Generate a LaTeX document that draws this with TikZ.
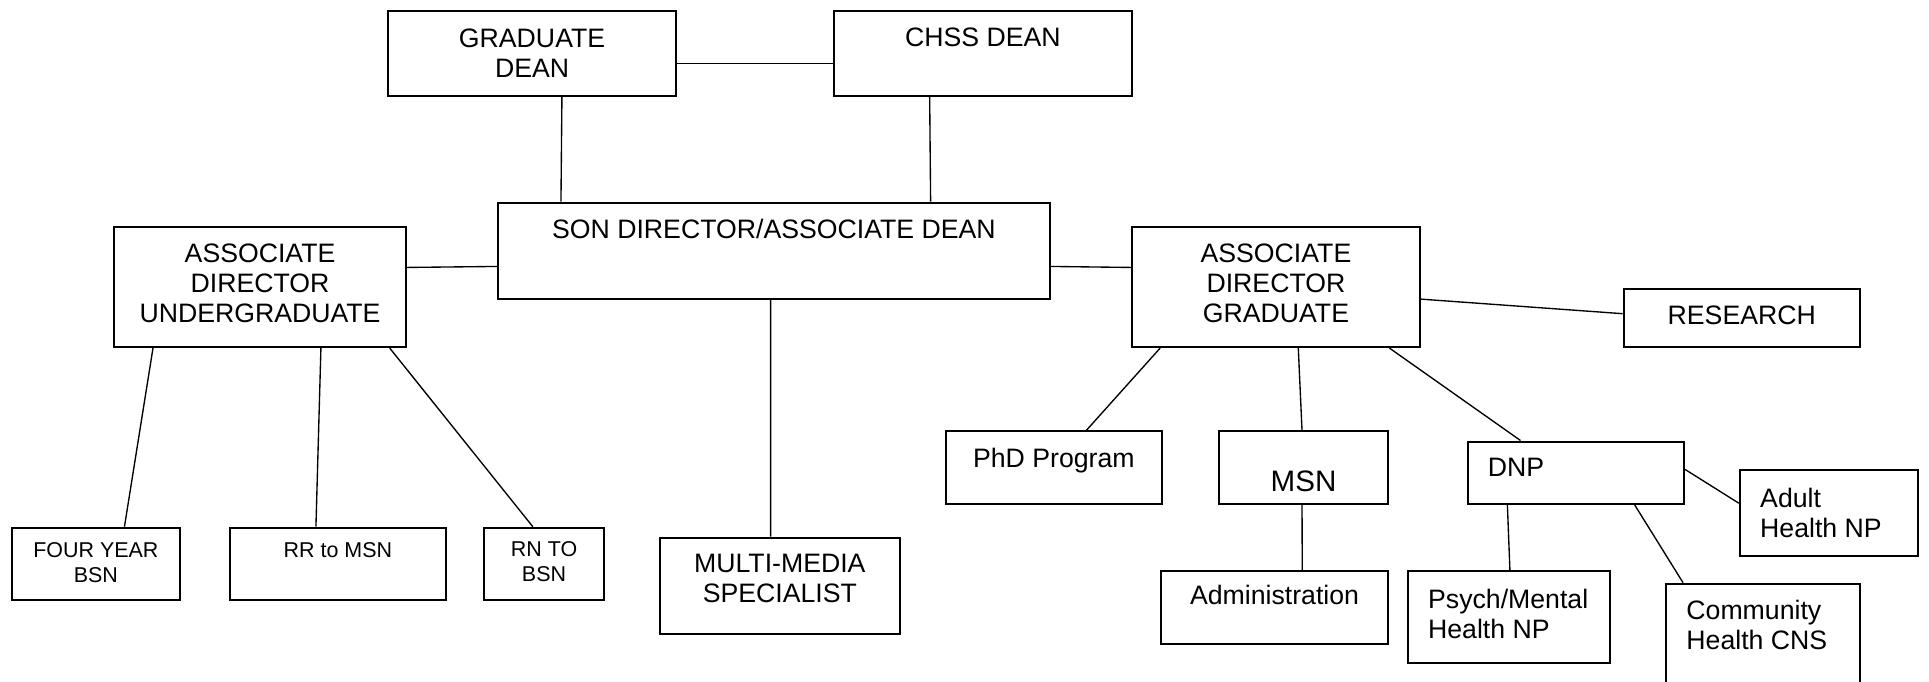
\documentclass[tikz,border=0pt]{standalone}
\usepackage{fontspec}
\setmainfont{Liberation Sans}
\usetikzlibrary{calc}
\tikzset{
  orgbox/.style 2 args={draw,line width=1pt,anchor=north west,inner sep=0pt,
    minimum width=#1*0.48pt,minimum height=#2*0.48pt},
  toptext/.style={anchor=north,inner sep=0pt,align=center,yshift=-#1*0.48pt,
    font=\fontsize{12.8}{14.4}\selectfont},
  lefttext/.style={anchor=north west,inner sep=0pt,align=left,xshift=21*0.48pt,
    yshift=-#1*0.48pt,font=\fontsize{12.8}{14.4}\selectfont},
  smalltext/.style={font=\fontsize{10.3}{12}\selectfont},
  link/.style={line width=0.65pt}
}

\begin{document}
\begin{tikzpicture}[x=0.48pt,y=-0.48pt]
  \useasboundingbox (0,0) rectangle (1929,681);
  % deans and director
  \node[orgbox={288}{85},label={[toptext=18.3]north:{GRADUATE\\DEAN}}] (gd) at (387,10) {};
  \node[orgbox={298.4}{85},label={[toptext=17.3]north:CHSS DEAN}] (chss) at (832.6,10) {};
  \node[orgbox={551.7}{96},label={[toptext=16.6]north:SON DIRECTOR/ASSOCIATE DEAN}] (son) at (497,201.7) {};
  \node[orgbox={292}{120.3},label={[toptext=17.6]north:{ASSOCIATE\\DIRECTOR\\UNDERGRADUATE}}] (ug) at (113,225.7) {};
  \node[orgbox={288.2}{120.3},label={[toptext=17.6]north:{ASSOCIATE\\DIRECTOR\\GRADUATE}}] (grad) at (1130.8,225.7) {};
  \node[orgbox={236.4}{58.3},label={[toptext=18]north:RESEARCH}] (res) at (1622.5,287.7) {};
  % undergraduate programs
  \node[orgbox={167.9}{72},label={[toptext=15.6,smalltext]north:{FOUR YEAR\\BSN}}] (four) at (10.9,526.7) {};
  \node[orgbox={215.8}{72},label={[toptext=15.6,smalltext]north:RR to MSN}] (rr) at (229,526.7) {};
  \node[orgbox={120}{72},label={[toptext=14,smalltext]north:{RN TO\\BSN}}] (rn) at (483,526.7) {};
  \node[orgbox={240}{96},label={[toptext=17.3]north:{MULTI-MEDIA\\SPECIALIST}}] (mm) at (658.8,536.7) {};
  % graduate programs
  \node[orgbox={216.4}{72.7},label={[toptext=17]north:PhD Program}] (phd) at (944.6,430.3) {};
  \node[orgbox={169}{72.7},label={[toptext=40,font=\fontsize{14.2}{16}\selectfont]north:MSN}] (msn) at (1218,430.3) {};
  \node[orgbox={216.5}{62.2},label={[lefttext=17.2]north west:DNP}] (dnp) at (1466.5,440.5) {};
  \node[orgbox={227}{72.7},label={[toptext=14.7]north:Administration}] (admin) at (1160,570.3) {};
  \node[orgbox={202.3}{91.4},label={[lefttext=18]north west:{Psych/Mental\\Health NP}}] (psych) at (1406.7,570.3) {};
  \node[orgbox={194}{120},label={[lefttext=17.3]north west:{Community\\Health CNS}}] (comm) at (1665,582.7) {};
  \node[orgbox={178.2}{86.3},label={[lefttext=18.6]north west:{Adult\\Health NP}}] (adult) at (1738.8,468.7) {};
  % connectors, bottom edge to top edge
  \foreach \a/\fa/\b/\fb in {gd/.603/son/.1155, chss/.323/son/.783, son/.494/mm/.462,
      ug/.136/four/.668, ug/.707/rr/.399, ug/.941/rn/.408,
      grad/.101/phd/.649, grad/.577/msn/.491, grad/.891/dnp/.247,
      msn/.491/admin/.621, dnp/.187/psych/.505, dnp/.769/comm/.092}
    \draw[link] ($(\a.south west)!\fa!(\a.south east)$) -- ($(\b.north west)!\fb!(\b.north east)$);
  % connectors, right edge to left edge
  \foreach \a/\fa/\b/\fb in {gd/.612/chss/.612, ug/.341/son/.66, son/.66/grad/.341,
      grad/.6/res/.43, dnp/.45/adult/.39}
    \draw[link] ($(\a.north east)!\fa!(\a.south east)$) -- ($(\b.north west)!\fb!(\b.south west)$);
\end{tikzpicture}
\end{document}
